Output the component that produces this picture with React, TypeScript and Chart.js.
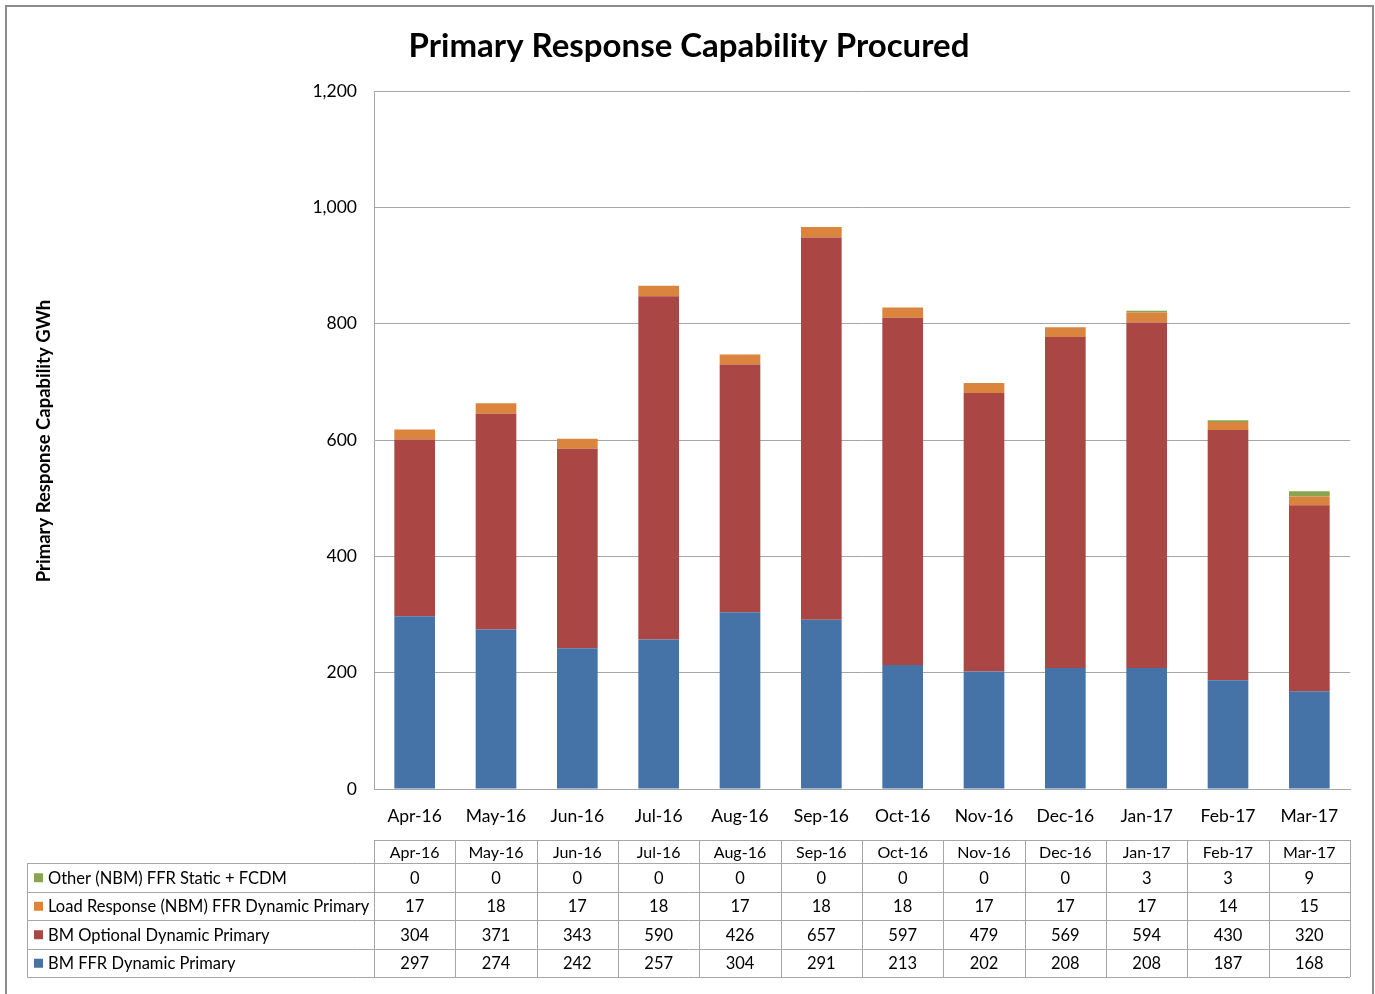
import React, { useEffect, useRef } from "react";
import { Chart, registerables } from "chart.js";

Chart.register(...registerables);

const title = "Primary Response Capability Procured";
const yAxisTitle = "Primary Response Capability GWh";
const categories = ["Apr-16", "May-16", "Jun-16", "Jul-16", "Aug-16", "Sep-16", "Oct-16", "Nov-16", "Dec-16", "Jan-17", "Feb-17", "Mar-17"];
const bmFfrDynamic = [297, 274, 242, 257, 304, 291, 213, 202, 208, 208, 187, 168];
const bmOptionalDynamic = [304, 371, 343, 590, 426, 657, 597, 479, 569, 594, 430, 320];
const loadResponse = [17, 18, 17, 18, 17, 18, 18, 17, 17, 17, 14, 15];
const otherNbm = [0, 0, 0, 0, 0, 0, 0, 0, 0, 3, 3, 9];
const seriesNames = ["BM FFR Dynamic Primary", "BM Optional Dynamic Primary", "Load Response (NBM) FFR Dynamic Primary", "Other (NBM) FFR Static + FCDM"];
const seriesColors = ["#4572A7", "#AA4643", "#DB843D", "#89A54E"];
const yMin = 0;
const yMax = 1200;
const yStep = 200;

const FONT = "Lato, 'Open Sans', sans-serif";

export default function App() {
  const ref = useRef<HTMLCanvasElement | null>(null);

  useEffect(() => {
    const canvas = ref.current;
    if (!canvas) return;
    const seriesData = [bmFfrDynamic, bmOptionalDynamic, loadResponse, otherNbm];

    const decor = {
      id: "decor",
      afterDraw(chart: any) {
        const ctx = chart.ctx as CanvasRenderingContext2D;
        const area = chart.chartArea;
        const xs = chart.scales.x;
        ctx.save();
        // outer border
        ctx.strokeStyle = "#8c8c8c";
        ctx.lineWidth = 2;
        ctx.strokeRect(6, 6, 1367, 1000);

        // title
        ctx.fillStyle = "#000";
        ctx.font = `bold 33px ${FONT}`;
        ctx.textAlign = "center";
        ctx.textBaseline = "middle";
        ctx.fillText(title, 689, 46);

        // y axis title
        ctx.save();
        ctx.translate(44, 441);
        ctx.rotate(-Math.PI / 2);
        ctx.font = `bold 18.5px ${FONT}`;
        ctx.fillText(yAxisTitle, 0, 0);
        ctx.restore();

        // data table
        const rowTops = [840, 863, 891.5, 920, 948.5, 977];
        const tableLeft = 27;
        const colW = (area.right - area.left) / categories.length;
        ctx.strokeStyle = "#a6a6a6";
        ctx.lineWidth = 1;
        ctx.beginPath();
        ctx.moveTo(area.left, rowTops[0] + 0.5);
        ctx.lineTo(area.right, rowTops[0] + 0.5);
        for (let r = 1; r < rowTops.length; r++) {
          ctx.moveTo(tableLeft, Math.round(rowTops[r]) + 0.5);
          ctx.lineTo(area.right, Math.round(rowTops[r]) + 0.5);
        }
        ctx.moveTo(tableLeft + 0.5, rowTops[1]);
        ctx.lineTo(tableLeft + 0.5, rowTops[5]);
        for (let i = 0; i <= categories.length; i++) {
          const x = Math.round(area.left + i * colW) + 0.5;
          ctx.moveTo(x, rowTops[0]);
          ctx.lineTo(x, rowTops[5]);
        }
        ctx.stroke();

        ctx.font = `16px ${FONT}`;
        ctx.fillStyle = "#000";
        ctx.textAlign = "center";
        categories.forEach((c, i) => {
          const cx = xs.getPixelForValue(i);
          ctx.fillText(c, cx, (rowTops[0] + rowTops[1]) / 2 + 1);
        });
        for (let r = 0; r < 4; r++) {
          const sIdx = 3 - r;
          const cy = (rowTops[r + 1] + rowTops[r + 2]) / 2 + 1;
          ctx.textAlign = "left";
          ctx.fillStyle = seriesColors[sIdx];
          ctx.fillRect(34, cy - 5, 9, 9);
          ctx.fillStyle = "#000";
          ctx.font = `16.5px ${FONT}`;
          ctx.fillText(seriesNames[sIdx], 48, cy);
          ctx.textAlign = "center";
          ctx.font = `16.5px ${FONT}`;
          seriesData[sIdx].forEach((v, i) => {
            ctx.fillText(String(v), xs.getPixelForValue(i), cy);
          });
        }
        ctx.restore();
      },
    };

    const chart = new Chart(canvas, {
      type: "bar",
      data: {
        labels: categories,
        datasets: seriesData.map((d, i) => ({
          label: seriesNames[i],
          data: d,
          backgroundColor: seriesColors[i],
          borderWidth: 0,
          categoryPercentage: 1,
          barPercentage: 0.5,
        })),
      },
      options: {
        responsive: false,
        animation: false,
        devicePixelRatio: 1,
        layout: { padding: { left: 0, right: 25, top: 91, bottom: 165 } },
        plugins: {
          legend: { display: false },
          title: { display: false },
          tooltip: { enabled: false },
        },
        scales: {
          x: {
            stacked: true,
            grid: { display: false, drawTicks: false },
            border: { display: true, color: "#a6a6a6", width: 1 },
            ticks: { color: "#000", font: { family: FONT, size: 17.5 }, padding: 17, maxRotation: 0 },
            afterFit: (s: any) => { s.height = 40; },
          },
          y: {
            stacked: true,
            min: yMin,
            max: yMax,
            grid: { color: "#a6a6a6", drawTicks: false, lineWidth: 1 },
            border: { display: true, color: "#a6a6a6", width: 1 },
            ticks: {
              stepSize: yStep,
              color: "#000",
              font: { family: FONT, size: 17.5 },
              padding: 17,
              callback: (v: any) => Number(v).toLocaleString("en-US"),
            },
            afterFit: (s: any) => { s.width = 374; },
          },
        },
      },
      plugins: [decor],
    });
    return () => chart.destroy();
  }, []);

  return (
    <div style={{ position: "absolute", left: 0, top: 0, width: 1375, height: 994, background: "#fff" }}>
      <canvas ref={ref} width={1375} height={994} style={{ display: "block" }} />
    </div>
  );
}
